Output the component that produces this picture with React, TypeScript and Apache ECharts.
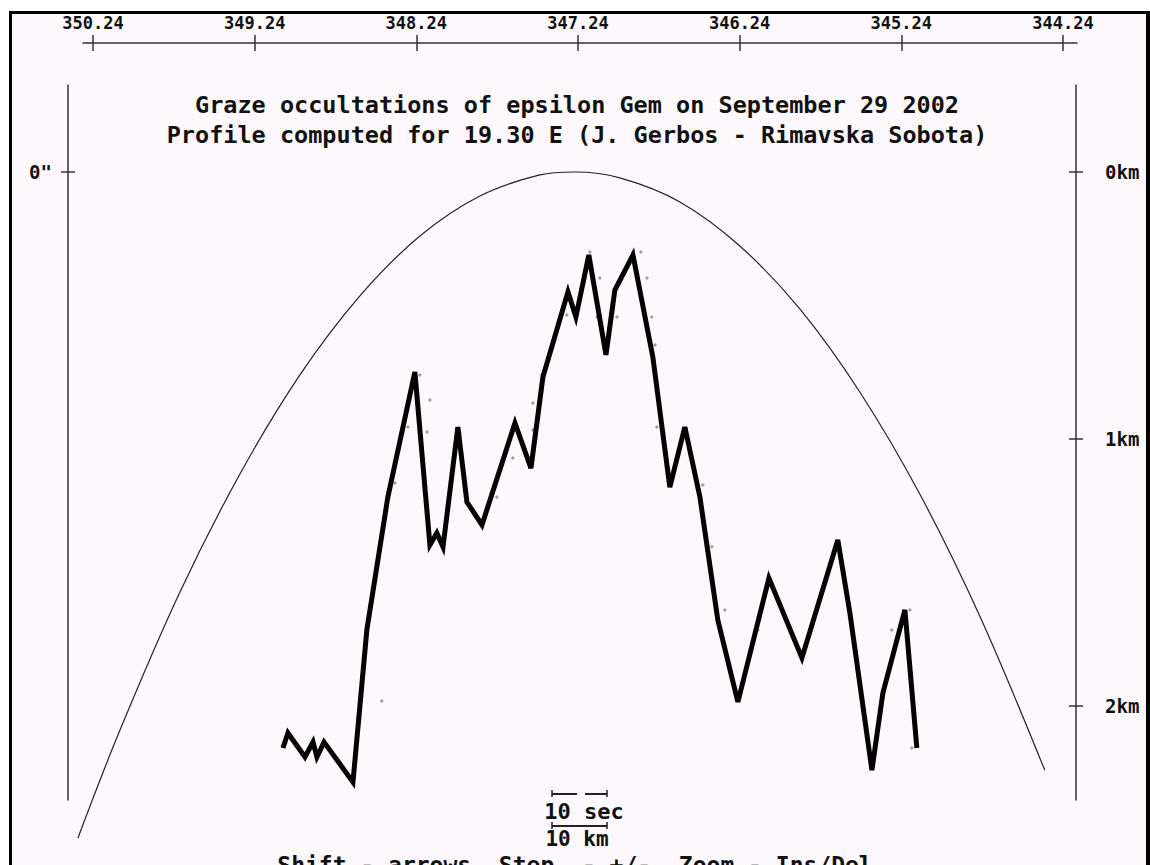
import React, { useEffect, useRef } from "react";
import * as echarts from "echarts";

// Top axis: position angle ticks (degrees)
const topTicks = [350.24, 349.24, 348.24, 347.24, 346.24, 345.24, 344.24];
// Right axis: km ticks, left axis: arcsec tick
const kmTicks = [0, 1, 2];
const arcTicks = [0];

const titleLine1 = "Graze occultations of epsilon Gem on September 29 2002";
const titleLine2 = "Profile computed for 19.30 E (J. Gerbos - Rimavska Sobota)";
const helpText = "Shift - arrows, Step  - +/-, Zoom - Ins/Del";

// Mean limb curve (degrees, km below 0)
const limbDeg = [350.333, 350.073, 349.702, 349.331, 348.96, 348.589, 348.218, 347.847, 347.476, 347.259, 346.981, 346.61, 346.239, 345.868, 345.497, 345.126, 344.755, 344.353];
const limbKm = [2.494, 2.09, 1.573, 1.131, 0.76, 0.464, 0.24, 0.09, 0.011, 0, 0.022, 0.112, 0.277, 0.513, 0.824, 1.206, 1.663, 2.24];

// Lunar limb profile (thick line)
const profileDeg = [349.065, 349.034, 348.929, 348.879, 348.855, 348.811, 348.632, 348.546, 348.416, 348.249, 348.156, 348.113, 348.075, 347.983, 347.927, 347.834, 347.63, 347.531, 347.457, 347.302, 347.253, 347.173, 347.067, 347.012, 346.9, 346.777, 346.672, 346.579, 346.486, 346.375, 346.251, 346.059, 345.855, 345.633, 345.558, 345.422, 345.354, 345.218, 345.144];
const profileKm = [2.157, 2.101, 2.191, 2.135, 2.191, 2.135, 2.285, 1.715, 1.217, 0.749, 1.397, 1.352, 1.404, 0.955, 1.236, 1.322, 0.94, 1.109, 0.768, 0.449, 0.543, 0.311, 0.685, 0.442, 0.311, 0.693, 1.18, 0.955, 1.217, 1.678, 1.985, 1.521, 1.82, 1.378, 1.652, 2.24, 1.951, 1.64, 2.157];

// Observation marks (small symbols)
const markDeg = [347.166, 346.9, 346.851, 346.814, 346.783, 346.764, 347.105, 347.123, 346.999, 347.309, 347.463, 347.519, 347.519, 347.643, 346.734, 346.752, 346.468, 346.412, 346.332, 348.218, 348.156, 348.292, 348.174, 348.372, 348.453, 347.97, 347.742, 346.127, 345.187, 345.299, 345.175];
const markKm = [0.3, 0.3, 0.3, 0.397, 0.543, 0.648, 0.397, 0.543, 0.543, 0.536, 0.76, 0.865, 0.966, 1.071, 0.861, 0.955, 1.172, 1.404, 1.64, 0.76, 0.854, 0.955, 0.974, 1.165, 1.981, 0.978, 1.217, 1.715, 1.64, 1.715, 2.157];

const MONO = "'DejaVu Sans Mono', 'Liberation Mono', monospace";
const INK = "#111";
const AX = "#333";

const TOP_MIN = 344.153;
const TOP_MAX = 350.302;
const DATA_XMIN = 344.1596;
const DATA_XMAX = 350.3946;
const YMIN = -0.3258;
const YMAX = 2.352;

export default function App() {
  const ref = useRef<HTMLDivElement>(null);
  useEffect(() => {
    if (!ref.current) return;
    const chart = echarts.init(ref.current, undefined, { renderer: "svg" });
    const zip = (a: number[], b: number[]) => a.map((v, i) => [v, b[i]]);
    const tickStyle = { color: AX, width: 1.5 };
    const lbl = { fontFamily: MONO, fontWeight: "bold", color: INK };

    const topAxis = (gridIndex: number, inside: boolean, withLineAndLabel: boolean) => ({
      type: "value", gridIndex, position: "top", inverse: true,
      min: TOP_MIN, max: TOP_MAX,
      axisLine: { show: withLineAndLabel, onZero: false, lineStyle: tickStyle },
      axisTick: { show: true, inside, length: 8, customValues: topTicks, lineStyle: tickStyle },
      axisLabel: withLineAndLabel
        ? { show: true, customValues: topTicks, margin: 12, formatter: (v: number) => v.toFixed(2), fontSize: 17, ...lbl }
        : { show: false },
      splitLine: { show: false },
    });

    const sideAxis = (gridIndex: number, position: string, inside: boolean, ticks: number[], fmt: any, margin: number, withLineAndLabel: boolean) => ({
      type: "value", gridIndex, position, inverse: true,
      min: YMIN, max: YMAX,
      axisLine: { show: withLineAndLabel, onZero: false, lineStyle: tickStyle },
      axisTick: { show: true, inside, length: 7, customValues: ticks, lineStyle: tickStyle },
      axisLabel: withLineAndLabel
        ? { show: true, customValues: ticks, margin, formatter: fmt, fontSize: 19, ...lbl }
        : { show: false },
      splitLine: { show: false },
    });

    const option: any = {
      animation: false,
      backgroundColor: "#fcf8fc",
      grid: [
        { left: 83, right: 73, top: 43, height: 600 },
        { left: 83, right: 73, top: 43, height: 600 },
        { left: 68, right: 74, top: 85, bottom: 65 },
        { left: 68, right: 74, top: 85, bottom: 65 },
      ],
      xAxis: [
        topAxis(0, false, true),
        topAxis(1, true, false),
        { type: "value", gridIndex: 2, inverse: true, min: DATA_XMIN, max: DATA_XMAX, show: false, axisLine: { onZero: false } },
        { type: "value", gridIndex: 3, inverse: true, min: DATA_XMIN, max: DATA_XMAX, show: false, axisLine: { onZero: false } },
      ],
      yAxis: [
        { type: "value", gridIndex: 0, show: false, min: 0, max: 1, axisLine: { onZero: false } },
        { type: "value", gridIndex: 1, show: false, min: 0, max: 1, axisLine: { onZero: false } },
        sideAxis(2, "left", false, arcTicks, () => '0"', 16, true),
        sideAxis(2, "right", false, kmTicks, (v: number) => `${Math.round(v)}km`, 29, true),
        sideAxis(3, "left", true, arcTicks, () => '0"', 16, false),
        sideAxis(3, "right", true, kmTicks, (v: number) => `${Math.round(v)}km`, 29, false),
      ],
      series: [
        {
          type: "line", name: "limb", xAxisIndex: 2, yAxisIndex: 2,
          data: zip(limbDeg, limbKm), smooth: 0.35, showSymbol: false, symbol: "none",
          clip: false,
          lineStyle: { color: "#222", width: 1.2 },
          z: 3,
        },
        {
          type: "scatter", name: "marks", xAxisIndex: 2, yAxisIndex: 2,
          data: zip(markDeg, markKm), symbol: "diamond", symbolSize: 4,
          itemStyle: { color: "#777", opacity: 0.7 },
          z: 2,
        },
        {
          type: "line", name: "profile", xAxisIndex: 2, yAxisIndex: 2,
          data: zip(profileDeg, profileKm), showSymbol: false, symbol: "none",
          lineStyle: { color: "#000", width: 5, join: "miter", miterLimit: 4 },
          z: 4,
        },
      ],
      graphic: [
        { type: "text", x: 577, y: 105, z: 10, style: { text: titleLine1, fill: INK, font: `bold 23.5px ${MONO}`, textAlign: "center", textVerticalAlign: "middle" } },
        { type: "text", x: 577, y: 135, z: 10, style: { text: titleLine2, fill: INK, font: `bold 23.5px ${MONO}`, textAlign: "center", textVerticalAlign: "middle" } },
        // scale bar: 10 sec
        { type: "line", z: 10, shape: { x1: 552, y1: 794, x2: 577, y2: 794 }, style: { stroke: "#222", lineWidth: 2 } },
        { type: "line", z: 10, shape: { x1: 585, y1: 794, x2: 607, y2: 794 }, style: { stroke: "#222", lineWidth: 2 } },
        { type: "line", z: 10, shape: { x1: 552, y1: 790, x2: 552, y2: 797 }, style: { stroke: "#222", lineWidth: 1.5 } },
        { type: "line", z: 10, shape: { x1: 607, y1: 790, x2: 607, y2: 797 }, style: { stroke: "#222", lineWidth: 1.5 } },
        { type: "text", x: 584, y: 811, z: 10, style: { text: "10 sec", fill: INK, font: `bold 22px ${MONO}`, textAlign: "center", textVerticalAlign: "middle" } },
        // scale bar: 10 km
        { type: "line", z: 10, shape: { x1: 552, y1: 826, x2: 607, y2: 826 }, style: { stroke: "#222", lineWidth: 2 } },
        { type: "line", z: 10, shape: { x1: 552, y1: 822, x2: 552, y2: 829 }, style: { stroke: "#222", lineWidth: 1.5 } },
        { type: "line", z: 10, shape: { x1: 607, y1: 822, x2: 607, y2: 829 }, style: { stroke: "#222", lineWidth: 1.5 } },
        { type: "text", x: 577, y: 839, z: 10, style: { text: "10 km", fill: INK, font: `bold 21px ${MONO}`, textAlign: "center", textVerticalAlign: "middle" } },
        { type: "text", x: 575, y: 865, z: 10, style: { text: helpText, fill: INK, font: `bold 23px ${MONO}`, textAlign: "center", textVerticalAlign: "middle" } },
        // outer white margins and black frame
        { type: "rect", z: 50, shape: { x: 0, y: 0, width: 1150, height: 11 }, style: { fill: "#ffffff" } },
        { type: "rect", z: 50, shape: { x: 0, y: 0, width: 9, height: 865 }, style: { fill: "#ffffff" } },
        { type: "rect", z: 51, shape: { x: 9, y: 11, width: 1141, height: 3 }, style: { fill: "#000" } },
        { type: "rect", z: 51, shape: { x: 9, y: 11, width: 3, height: 854 }, style: { fill: "#000" } },
        { type: "rect", z: 51, shape: { x: 1146, y: 11, width: 4, height: 854 }, style: { fill: "#000" } },
      ],
    };
    chart.setOption(option);
    return () => chart.dispose();
  }, []);
  return (
    <div
      ref={ref}
      style={{ position: "absolute", left: 0, top: 0, width: 1150, height: 865 }}
    />
  );
}
